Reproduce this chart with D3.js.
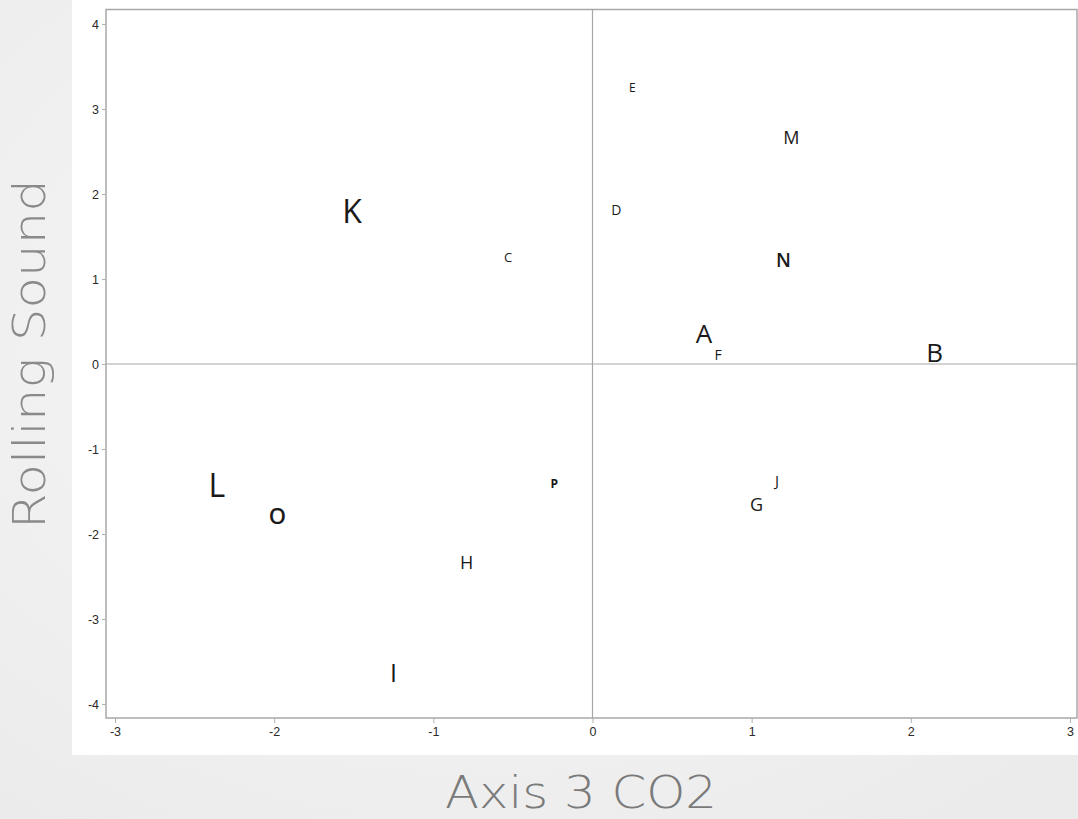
<!DOCTYPE html>
<html>
<head>
<meta charset="utf-8">
<script src="https://cdn.jsdelivr.net/npm/d3@7"></script>
<style>
  html, body { margin: 0; padding: 0; }
  body { width: 1078px; height: 819px; overflow: hidden; }
</style>
</head>
<body>
<svg width="1078" height="819"></svg>
<script>
let width = 1078, height = 819;

// letters on the biplot: name, axis 3 (x), rolling sound (y), label size
let labels = ["E", "M", "D", "N", "K", "C", "A", "F", "B", "P", "J", "G", "L", "O", "H", "I"];
let xs = [0.25, 1.25, 0.15, 1.20, -1.51, -0.53, 0.70, 0.79, 2.15, -0.24, 1.16, 1.03, -2.36, -1.98, -0.79, -1.25];
let ys = [3.25, 2.67, 1.82, 1.22, 1.81, 1.26, 0.36, 0.11, 0.14, -1.41, -1.36, -1.65, -1.42, -1.78, -2.33, -3.62];
let sizes = [12, 18, 14, 19, 32, 13, 26, 14, 26, 12, 15, 18, 32, 22, 18, 25];
let weights = [400, 400, 400, 600, 400, 400, 400, 400, 400, 700, 400, 400, 400, 600, 400, 400];

let xTicks = [-3, -2, -1, 0, 1, 2, 3];
let yTicks = [-4, -3, -2, -1, 0, 1, 2, 3, 4];

let svg = d3.select("svg");

// page background
let grad = svg.append("defs").append("radialGradient")
  .attr("id", "bg").attr("cx", "45%").attr("cy", "40%").attr("r", "75%");
grad.append("stop").attr("offset", "0%").attr("stop-color", "#f8f8f8");
grad.append("stop").attr("offset", "100%").attr("stop-color", "#ebebeb");
svg.append("rect").attr("width", width).attr("height", height).attr("fill", "url(#bg)");

// white picture panel
svg.append("rect").attr("x", 72).attr("y", 0).attr("width", width - 72).attr("height", 755)
  .attr("fill", "#ffffff");

let frame = { left: 106, top: 9.5, right: 1077, bottom: 718 };

let x = d3.scaleLinear().domain([-3, 3]).range([115, 1070]);
let y = d3.scaleLinear().domain([-4, 4]).range([704, 24]);

let g = svg.append("g");

// frame
g.append("rect")
  .attr("x", frame.left).attr("y", frame.top)
  .attr("width", frame.right - frame.left).attr("height", frame.bottom - frame.top)
  .attr("fill", "none").attr("stroke", "#a8a8a8").attr("stroke-width", 1.5);

// zero lines
g.append("line")
  .attr("x1", x(0)).attr("x2", x(0)).attr("y1", frame.top).attr("y2", frame.bottom)
  .attr("stroke", "#a8a8a8").attr("stroke-width", 1.2);
g.append("line")
  .attr("x1", frame.left).attr("x2", frame.right).attr("y1", y(0)).attr("y2", y(0))
  .attr("stroke", "#a8a8a8").attr("stroke-width", 1.2);

// axes
let xAxis = g.append("g")
  .attr("transform", `translate(0,${frame.bottom})`)
  .call(d3.axisBottom(x).tickValues(xTicks).tickSize(5).tickPadding(4));
let yAxis = g.append("g")
  .attr("transform", `translate(${frame.left},0)`)
  .call(d3.axisLeft(y).tickValues(yTicks).tickSize(4).tickPadding(3));

[xAxis, yAxis].forEach(a => {
  a.select(".domain").remove();
  a.selectAll(".tick line").attr("stroke", "#b0b0b0");
  a.selectAll(".tick text")
    .attr("fill", "#2a2a2a")
    .style("font-family", "'Liberation Sans', Arial, sans-serif")
    .style("font-size", "12.5px")
    .text(d => String(d)); // plain hyphen minus like the original
});

// letters
g.append("g").selectAll("text")
  .data(labels)
  .join("text")
  .attr("x", (_, i) => x(xs[i]))
  .attr("y", (_, i) => y(ys[i]))
  .attr("text-anchor", "middle")
  .attr("dominant-baseline", "central")
  .attr("fill", "#1a1a1a")
  .style("font-family", "'Open Sans', 'Liberation Sans', sans-serif")
  .style("font-size", (_, i) => sizes[i] + "px")
  .style("font-weight", (_, i) => weights[i])
  .text(d => d);

// axis titles (wide geometric face in the original, so stretch the glyphs)
svg.append("text")
  .attr("transform", `translate(45,354) rotate(-90)`)
  .attr("text-anchor", "middle")
  .attr("fill", "#8a8a8a")
  .attr("textLength", 350)
  .attr("lengthAdjust", "spacingAndGlyphs")
  .style("font-family", "'DejaVu Sans', sans-serif")
  .style("font-weight", 200)
  .style("font-size", "45px")
  .text("Rolling Sound");

svg.append("text")
  .attr("x", 581).attr("y", 808)
  .attr("text-anchor", "middle")
  .attr("fill", "#7a7a7a")
  .attr("textLength", 272)
  .attr("lengthAdjust", "spacingAndGlyphs")
  .style("font-family", "'DejaVu Sans', sans-serif")
  .style("font-weight", 200)
  .style("font-size", "45px")
  .text("Axis 3 CO2");
</script>
</body>
</html>
